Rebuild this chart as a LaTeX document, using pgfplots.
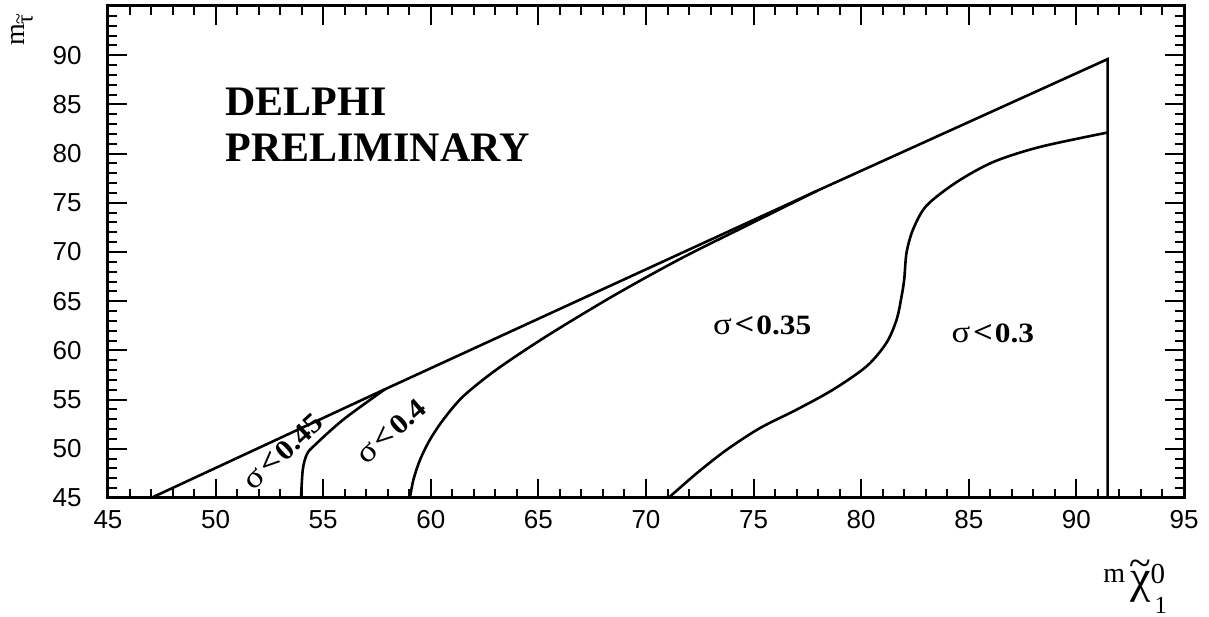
\documentclass[border=0pt]{standalone}
\usepackage{fontspec}
\setmainfont{Liberation Serif}
\newfontfamily\ticksans{Liberation Sans}
\usepackage{graphicx}
\usepackage{pgfplots}
\pgfplotsset{compat=1.18}
\usetikzlibrary{calc}

% sigma region label: regular sigma, bold relation and value, set a little wide
\newcommand\sig[1]{\scalebox{1.12}[1]{{\fontsize{15.5}{15.5}\selectfont σ\hspace{0.08em}\textbf{<}}\hspace{0.06em}\textbf{#1}}}
% a wide tilde placed over a glyph: #1 raise, #2 tilde size, #3 glyph
\newcommand\tildeover[3]{\ooalign{#3\cr\hidewidth\raisebox{#1}{\fontsize{#2}{#2}\selectfont\textasciitilde}\hidewidth\cr}}

\begin{document}
\begin{tikzpicture}
\begin{axis}[
  name=ax,
  width=538pt, height=246pt, scale only axis,
  xmin=45, xmax=95, ymin=45, ymax=95,
  xtick={45,50,...,95},
  ytick={45,50,...,95},
  yticklabels={45,50,55,60,65,70,75,80,85,90,{}},
  minor x tick num=4, minor y tick num=4,
  tick pos=both, tick align=inside, ticklabel pos=left,
  major tick length=9.5pt, minor tick length=4.5pt,
  axis line style={line width=1.5pt},
  every tick/.style={line width=1pt, black},
  tick label style={font=\ticksans\fontsize{13}{13}\selectfont,
    /pgf/number format/assume math mode=true},
  xticklabel style={inner sep=0pt, anchor=north, yshift=-6pt},
  yticklabel style={inner sep=0pt, anchor=east, xshift=-13pt},
  clip=false,
]
% kinematic limit and the vertical cut
\addplot[line width=1.3pt, sharp plot] coordinates {
  (47.0,45) (57.87,56.05) (77.93,76.2) (91.45,89.6) (91.45,45)};
% sigma < 0.3 boundary
\addplot[line width=1.3pt, smooth] coordinates {
  (91.45,82.14) (88.31,80.68) (86.14,79.15) (84.44,77.11) (83.04,74.72)
  (82.42,72.35) (82.11,69.97) (82.00,67.24) (81.88,65.54) (81.65,63.16)
  (81.18,60.79) (80.26,58.40) (78.70,56.02) (77.00,53.98) (75.30,52.11)
  (73.75,49.90) (72.36,47.52) (71.04,45.0)};
% sigma < 0.35 / 0.4 boundary
\addplot[line width=1.3pt, smooth] coordinates {
  (77.93,76.2) (74.68,72.68) (71.58,69.29) (68.48,65.54) (65.39,61.46)
  (63.06,58.06) (61.51,55.34) (60.58,52.96) (59.96,50.92) (59.50,48.88)
  (59.19,46.84) (59.03,45.0)};
% sigma < 0.4 / 0.45 boundary
\addplot[line width=1.3pt, smooth] coordinates {
  (57.87,56.05) (55.93,52.96) (54.54,50.23) (54.23,49.39) (54.05,47.86)
  (53.97,45.0)};

\node[anchor=base west, inner sep=0pt, font=\bfseries\fontsize{21}{21}\selectfont]
  at (axis cs:50.44,83.91) {DELPHI};
\node[anchor=base west, inner sep=0pt, font=\bfseries\fontsize{21}{21}\selectfont]
  at (axis cs:50.44,79.15) {PRELIMINARY};

\node[rotate=43, inner sep=0pt, font=\fontsize{14}{14}\selectfont]
  at (axis cs:53.15,49.72) {\sig{0.45}};
\node[rotate=41.5, inner sep=0pt, font=\fontsize{14}{14}\selectfont]
  at (axis cs:58.18,51.77) {\sig{0.4}};
\node[inner sep=0pt, font=\fontsize{14}{14}\selectfont]
  at (axis cs:75.40,62.55) {\sig{0.35}};
\node[inner sep=0pt, font=\fontsize{14}{14}\selectfont]
  at (axis cs:86.12,61.73) {\sig{0.3}};

% axis titles
\node[rotate=90, inner sep=0pt, anchor=center, font=\fontsize{14}{14}\selectfont]
  at (axis cs:41.0,92.55) {m\raisebox{-4pt}{\fontsize{12}{12}\selectfont\tildeover{4pt}{10}{τ}}};
\node[anchor=base west, inner sep=0pt, font=\fontsize{14}{14}\selectfont]
  at (axis cs:91.24,36.46) {m\hspace{2.5pt}\raisebox{-5pt}{\fontsize{23}{23}\selectfont\tildeover{8pt}{20}{χ}}\rlap{\raisebox{-0.7pt}{\fontsize{14.5}{14.5}\selectfont 0}}\hspace{2pt}\raisebox{-15.6pt}{\fontsize{12.3}{12.3}\selectfont 1}};
\end{axis}
\pgfresetboundingbox
\path ($(ax.south west)+(-54pt,-59.5pt)$) rectangle ($(ax.north east)+(12.5pt,3pt)$);
\end{tikzpicture}
\end{document}
